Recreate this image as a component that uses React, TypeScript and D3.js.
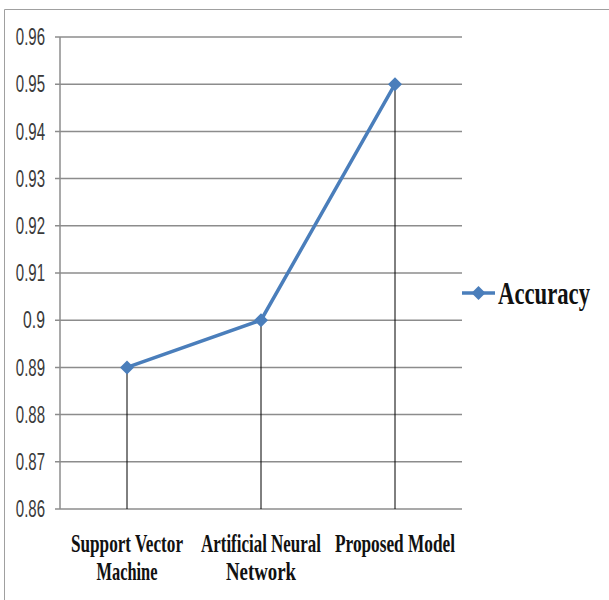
import React from "react";
import * as d3 from "d3";

const categories: string[][] = [
  ["Support Vector", "Machine"],
  ["Artificial Neural", "Network"],
  ["Proposed Model"],
];
const accuracy: number[] = [0.89, 0.9, 0.95];
const yTicks: number[] = [0.86, 0.87, 0.88, 0.89, 0.9, 0.91, 0.92, 0.93, 0.94, 0.95, 0.96];
const seriesName = "Accuracy";

// rendered widths of the condensed category labels
const catLineWidths: number[][] = [[112, 61], [120, 70], [120]];

const W = 609;
const H = 600;
const plot = { left: 60, right: 462, top: 37, bottom: 509 };
const blue = "#4A7EBB";

const tickText = (t: number) => (Math.abs(t - 0.9) < 1e-9 ? "0.9" : d3.format(".2f")(t));

export default function App() {
  const x = d3
    .scaleBand<number>()
    .domain(d3.range(accuracy.length))
    .range([plot.left, plot.right]);
  const y = d3.scaleLinear().domain([0.86, 0.96]).range([plot.bottom, plot.top]);
  const cx = (i: number) => (x(i) as number) + x.bandwidth() / 2;

  const line = d3
    .line<number>()
    .x((_, i) => cx(i))
    .y((d) => y(d));

  const diamond = (px: number, py: number, r: number) =>
    `M${px},${py - r}L${px + r},${py}L${px},${py + r}L${px - r},${py}Z`;

  return (
    <svg
      width={W}
      height={H}
      style={{ position: "absolute", left: 0, top: 0, background: "#fff" }}
    >
      {/* outer frame */}
      <path d={`M4.5,${H}V9.5H${W}`} fill="none" stroke="#a0a0a0" strokeWidth={1} />

      {/* gridlines and y tick labels */}
      {yTicks.map((t) => {
        const label = tickText(t);
        return (
          <g key={t}>
            <line
              x1={55}
              x2={plot.right}
              y1={y(t)}
              y2={y(t)}
              stroke="#8c8c8c"
              strokeWidth={1.5}
            />
            <text
              x={45}
              y={y(t)}
              dy="0.36em"
              textAnchor="end"
              fontFamily="'Liberation Sans', Arial, sans-serif"
              fontSize={23}
              fill="#3a3a3a"
              textLength={label.length * 7.3}
              lengthAdjust="spacingAndGlyphs"
            >
              {label}
            </text>
          </g>
        );
      })}
      {/* y axis line */}
      <line
        x1={plot.left}
        x2={plot.left}
        y1={plot.top}
        y2={plot.bottom}
        stroke="#8c8c8c"
        strokeWidth={1.5}
      />

      {/* drop lines */}
      {accuracy.map((v, i) => (
        <line
          key={i}
          x1={cx(i)}
          x2={cx(i)}
          y1={y(v)}
          y2={plot.bottom}
          stroke="#000"
          strokeWidth={1}
        />
      ))}

      {/* series line */}
      <path d={line(accuracy) ?? ""} fill="none" stroke={blue} strokeWidth={3.5} />
      {accuracy.map((v, i) => (
        <path key={i} d={diamond(cx(i), y(v), 7)} fill={blue} />
      ))}

      {/* category labels */}
      {categories.map((lines, i) =>
        lines.map((l, j) => (
          <text
            key={`${i}-${j}`}
            x={cx(i)}
            y={552 + j * 28}
            textAnchor="middle"
            fontFamily="'Liberation Serif', 'Times New Roman', serif"
            fontWeight="bold"
            fontSize={26}
            fill="#111"
            textLength={catLineWidths[i][j]}
            lengthAdjust="spacingAndGlyphs"
          >
            {l}
          </text>
        ))
      )}

      {/* legend */}
      <line x1={462} x2={495} y1={293} y2={293} stroke={blue} strokeWidth={3.5} />
      <path d={diamond(478.5, 293, 7)} fill={blue} />
      <text
        x={498}
        y={304}
        fontFamily="'Liberation Serif', 'Times New Roman', serif"
        fontWeight="bold"
        fontSize={32}
        fill="#111"
        textLength={92}
        lengthAdjust="spacingAndGlyphs"
      >
        {seriesName}
      </text>
    </svg>
  );
}
